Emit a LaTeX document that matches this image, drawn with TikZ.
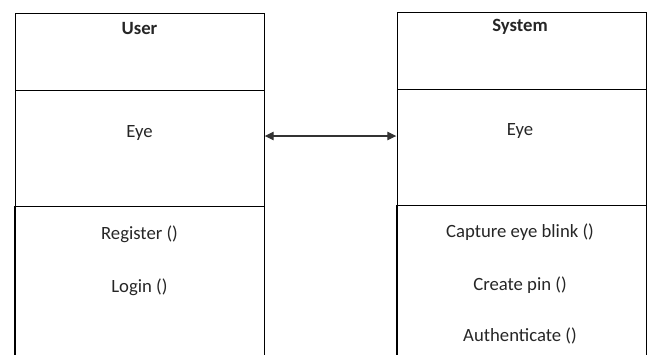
\documentclass[tikz,border=0pt]{standalone}
\usepackage{fontspec}
\setmainfont{Carlito}
\usetikzlibrary{arrows.meta}
\begin{document}
\begin{tikzpicture}[x=1pt,y=-1pt,
  comp/.style={rectangle,draw=black,line width=1.3pt,inner sep=0pt,anchor=north west},
  opsbox/.style={rectangle,draw=none,inner sep=0pt,anchor=north west},
  side/.style={draw=black,line width=1.3pt},
  txt/.style={font=\fontsize{18.7}{22}\selectfont,text=black!85,inner sep=0pt},
  title/.style={txt,font=\fontsize{18.7}{22}\selectfont\bfseries},
  link/.style={line width=1.2pt,draw=black!80,{Triangle[length=9pt,width=8.5pt]}-{Triangle[length=9pt,width=8.5pt]}}]
\useasboundingbox (0,0) rectangle (651,354);
% User class
\node[comp,minimum width=249pt,minimum height=77pt] (uhead) at (15,13) {};
\node[comp,minimum width=249pt,minimum height=116pt] (uattr) at (15,90) {};
\node[opsbox,minimum width=249pt,minimum height=150pt] (uops) at (15,206) {};
\draw[side] (uops.north west) -- (uops.south west);
\draw[side] (uops.north east) -- (uops.south east);
\node[title] (ulabel) at (139.5,29) {User};
\node[txt] (ueye) at (139.5,133) {Eye};
\node[txt] (ureg) at (139.5,234) {Register ()};
\node[txt] (ulog) at (139.5,287) {Login ()};
% System class
\node[comp,minimum width=249pt,minimum height=77pt] (shead) at (397,12) {};
\node[comp,minimum width=249pt,minimum height=116pt] (sattr) at (397,89) {};
\node[opsbox,minimum width=249pt,minimum height=150pt] (sops) at (397,205) {};
\draw[side] (sops.north west) -- (sops.south west);
\draw[side] (sops.north east) -- (sops.south east);
\node[title] (slabel) at (520,27) {System};
\node[txt] (seye) at (520,131) {Eye};
\node[txt] (scap) at (520,232) {Capture eye blink ()};
\node[txt] (spin) at (520,285) {Create pin ()};
\node[txt] (sauth) at (520,336) {Authenticate ()};
% association
\coordinate (ua) at (264.7,136);
\coordinate (sa) at (396.3,136);
\draw[link] (ua) -- (sa);
\end{tikzpicture}
\end{document}
